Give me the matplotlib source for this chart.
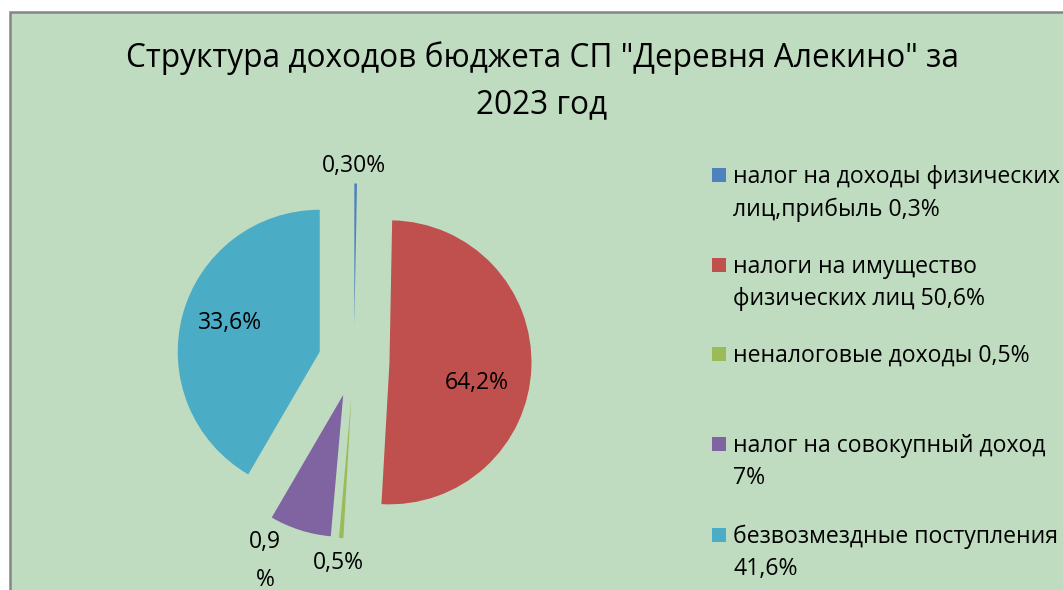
import numpy as np
import matplotlib
matplotlib.use('Agg')
import matplotlib.pyplot as plt
from matplotlib.patches import Rectangle

# Budget income structure, 2023
categories = ['налог на доходы физических\nлиц,прибыль 0,3%',
              'налоги на имущество\nфизических лиц 50,6%',
              'неналоговые доходы 0,5%',
              'налог на совокупный доход\n7%',
              'безвозмездные поступления\n41,6%']
shares = [0.3, 50.6, 0.5, 7, 41.6]
# labels written on the slices (as in the original file)
slice_labels = ['0,30%', '64,2%', '0,5%', '0,9\n%', '33,6%']
colors = ['#4F81BD', '#C0504D', '#9BBB59', '#8064A2', '#4BACC6']

title = 'Структура доходов бюджета СП "Деревня Алекино" за\n2023 год'

plt.rcParams['font.family'] = ['Open Sans', 'DejaVu Sans']

W, H = 1063, 590
fig = plt.figure(figsize=(W / 100, H / 100), dpi=100)
fig.patch.set_facecolor('white')

# green chart area with grey frame
bg = Rectangle((10 / W, -0.1), 1.2, (H - 12) / H + 0.1, transform=fig.transFigure,
               facecolor='#BFDCC0', edgecolor='#858585', linewidth=1.8, zorder=-5)
fig.patches.append(bg)

# pie axes: radius 1 -> ~142 px, centre at (354, 361) px
R = 142
cx, cy = 354, 361
span = 1.5
ax = fig.add_axes([(cx - span * R) / W, (H - cy - span * R) / H,
                   2 * span * R / W, 2 * span * R / H])
ax.set_facecolor('none')

wedges, _ = ax.pie(shares, colors=colors, startangle=90, counterclock=False,
                   explode=[0.25] * len(shares), radius=1,
                   wedgeprops=dict(linewidth=0))
ax.set_xlim(-span, span)
ax.set_ylim(-span, span)
ax.set_aspect('equal')
ax.axis('off')

# slice label positions: (angle in degrees, distance from pie centre)
label_pos = [(90, 1.37), (-10, 0.88), (-94.5, 1.43), (-114, 1.54), (163, 0.91)]
for txt, (ang, dist) in zip(slice_labels, label_pos):
    a = np.deg2rad(ang)
    ax.text(dist * np.cos(a), dist * np.sin(a), txt, ha='center', va='center',
            fontsize=16.5, color='black', linespacing=1.75)

fig.text(542 / W, 1 - 81 / H, title, ha='center', va='center',
         fontsize=22.8, linespacing=1.55)

# legend drawn by hand to keep the original spacing
leg_y = [175, 265, 354, 444, 535]
for lab, col, y in zip(categories, colors, leg_y):
    fig.patches.append(Rectangle((712 / W, 1 - (y + 7) / H), 14 / W, 14 / H,
                                 transform=fig.transFigure, facecolor=col,
                                 edgecolor='none', zorder=2))
    fig.text(733 / W, 1 - (y - 10) / H, lab, ha='left', va='top',
             fontsize=16.6, linespacing=1.45)

fig.savefig('out.png', dpi=100)
